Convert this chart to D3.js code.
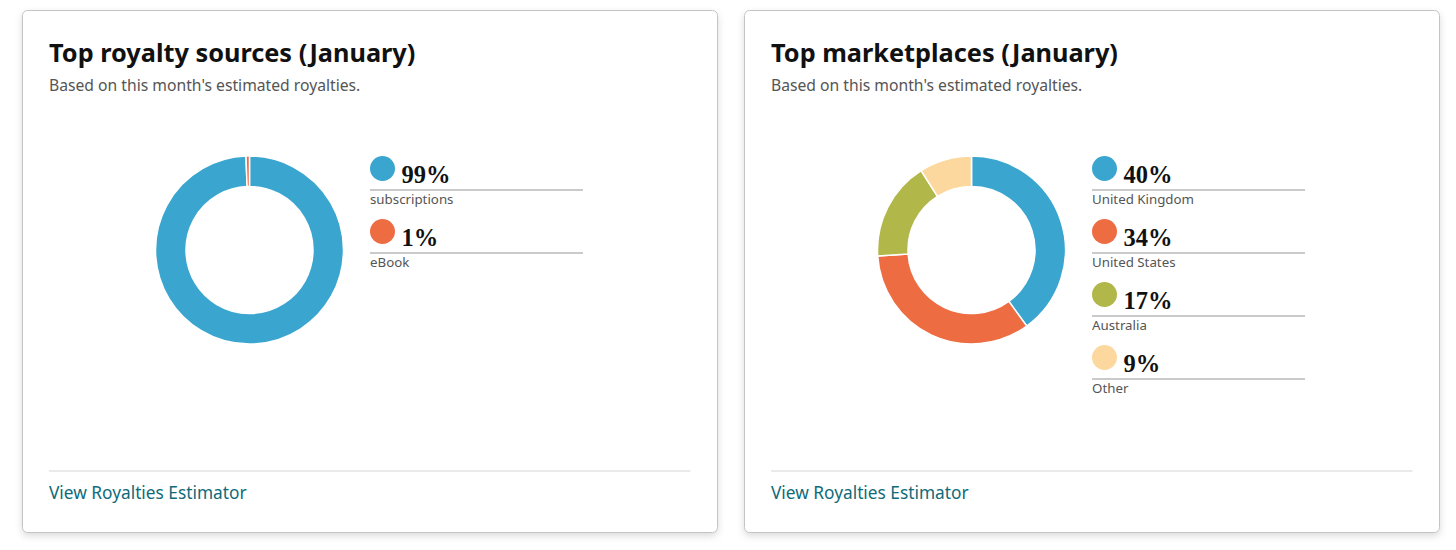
<!DOCTYPE html>
<html>
<head>
<meta charset="utf-8">
<script src="https://cdn.jsdelivr.net/npm/d3@7"></script>
<style>
  html, body { margin: 0; padding: 0; background: #fff; }
  svg { display: block; }
  .title { font-family: "Noto Sans", sans-serif; font-weight: 700; font-size: 25.3px; fill: #111; }
  .subtitle { font-family: "Noto Sans", sans-serif; font-size: 15.7px; fill: #555; }
  .pct { font-family: "Liberation Serif", serif; font-weight: 700; font-size: 24.5px; fill: #111; }
  .label { font-family: "Noto Sans", sans-serif; font-size: 13.3px; fill: #555; }
  .link { font-family: "Noto Sans", sans-serif; font-size: 17.3px; fill: #0f6b7a; }
</style>
</head>
<body>
<svg id="chart"></svg>
<script>
// chart data
const sourceLabels = ["subscriptions", "eBook"];
const sourceValues = [99.4, 0.6];
const sourceColors = ["#3aa6cf", "#ee6c42"];

const marketLabels = ["United Kingdom", "United States", "Australia", "Other"];
const marketValues = [40, 34, 17, 9];
const marketColors = ["#3aa6cf", "#ee6c42", "#b2b74a", "#fdd89e"];

const cardTitles = ["Top royalty sources (January)", "Top marketplaces (January)"];
const subtitle = "Based on this month's estimated royalties.";
const linkText = "View Royalties Estimator";

const W = 1456, H = 550;
const svg = d3.select("#chart").attr("width", W).attr("height", H);

const defs = svg.append("defs");
const shadow = defs.append("filter").attr("id", "shadow")
  .attr("x", "-5%").attr("y", "-5%").attr("width", "110%").attr("height", "115%");
shadow.append("feDropShadow")
  .attr("dx", 0).attr("dy", 3).attr("stdDeviation", 3.5)
  .attr("flood-color", "#000").attr("flood-opacity", 0.14);

const cardW = 695, cardH = 522;
const cards = [
  { x: 22.5, title: cardTitles[0], labels: sourceLabels, values: sourceValues, colors: sourceColors },
  { x: 744.5, title: cardTitles[1], labels: marketLabels, values: marketValues, colors: marketColors }
];

const pie = d3.pie().sort(null).value(d => d);
const arc = d3.arc().innerRadius(63.5).outerRadius(94);

cards.forEach(card => {
  const g = svg.append("g").attr("transform", `translate(${card.x},10.5)`);

  g.append("rect")
    .attr("width", cardW).attr("height", cardH).attr("rx", 5)
    .attr("fill", "#fff").attr("stroke", "#c4c4c4").attr("stroke-width", 1)
    .attr("filter", "url(#shadow)");

  g.append("text").attr("class", "title").attr("x", 26.5).attr("y", 51).text(card.title);
  g.append("text").attr("class", "subtitle").attr("x", 26.5).attr("y", 80).text(subtitle);

  // donut
  const donut = g.append("g").attr("transform", `translate(${227},${239.5})`);
  donut.selectAll("path")
    .data(pie(card.values))
    .enter()
    .append("path")
    .attr("d", arc)
    .attr("fill", (d, i) => card.colors[i])
    .attr("stroke", "#fff")
    .attr("stroke-width", 1.5);

  // legend
  const rowY = d3.scalePoint().domain(card.labels).range([0, 63 * (card.labels.length - 1)]);
  const legend = g.append("g").attr("transform", "translate(347.5,158)");
  const rows = legend.selectAll("g.row")
    .data(card.labels)
    .enter()
    .append("g")
    .attr("class", "row")
    .attr("transform", d => `translate(0,${rowY(d)})`);

  rows.append("circle")
    .attr("cx", 12.5).attr("cy", 0).attr("r", 12.5)
    .attr("fill", (d, i) => card.colors[i]);
  rows.append("text").attr("class", "pct")
    .attr("x", 31.5).attr("y", 14.5)
    .text((d, i) => Math.round(card.values[i]) + "%");
  rows.append("line")
    .attr("x1", 0).attr("x2", 213).attr("y1", 21.5).attr("y2", 21.5)
    .attr("stroke", "#b8b8b8").attr("stroke-width", 1.5);
  rows.append("text").attr("class", "label")
    .attr("x", 0).attr("y", 35.5)
    .text(d => d);

  // footer
  g.append("line")
    .attr("x1", 26.5).attr("x2", cardW - 27).attr("y1", 460.5).attr("y2", 460.5)
    .attr("stroke", "#d5d5d5").attr("stroke-width", 1);
  g.append("text").attr("class", "link").attr("x", 26.5).attr("y", 488).text(linkText);
});
</script>
</body>
</html>
